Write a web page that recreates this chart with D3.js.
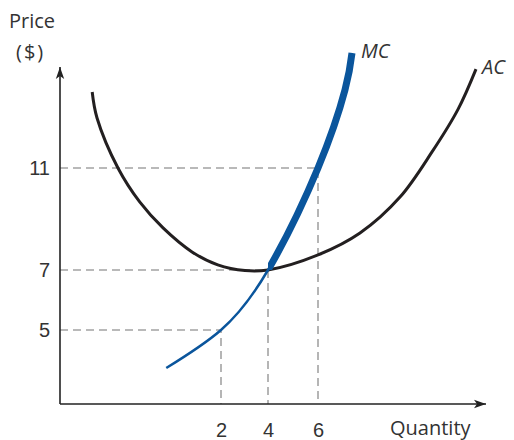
<!DOCTYPE html>
<html>
<head>
<meta charset="utf-8">
<script src="https://cdn.jsdelivr.net/npm/d3@7.9.0/dist/d3.min.js"></script>
<style>
  body { margin: 0; background: #fff; }
  svg { display: block; font-family: 'Open Sans', sans-serif; }
  .tick text { fill: #333; font-size: 20px; }
</style>
</head>
<body>
<svg id="chart" width="514" height="440"></svg>
<script>
// marked quantities / prices
const qTicks = [2, 4, 6];
const pTicks = [5, 7, 11];

// curves (quantity, price)
const mc = [
  [1.32, 2.43], [2, 5], [4, 7], [6, 11], [7.08, 14.06], [7.36, 15.51]
];
const ac = [
  [0.4, 13.98], [0.46, 12.96], [0.72, 11], [0.99, 9.67], [1.28, 8.65],
  [1.64, 7.71], [1.96, 7.2], [3.02, 6.98], [4, 7], [6, 7.59], [7.68, 8.45],
  [9.28, 9.86], [10.56, 11.63], [11.6, 13.3], [12.32, 14.88]
];
// MC is drawn heavy above its crossing with AC
const mcSplit = [4, 7];
// dashed guides: price level meets MC at this quantity
const guides = [[2, 5], [4, 7], [6, 11]];

const svg = d3.select('#chart');

// the drawing is not to scale, so the scales are piecewise
const x = d3.scaleLinear().domain([0, 2, 4, 6, 12]).range([60, 221, 268, 318, 468]);
const y = d3.scaleLinear().domain([0, 5, 7, 11, 15]).range([404, 330, 270, 168, 66]);

const x0 = x(0), y0 = y(0);

// dashed guide lines
guides.forEach(([q, p]) => {
  svg.append('path')
    .attr('d', `M${x0},${y(p)}H${x(q)}V${y0}`)
    .attr('fill', 'none')
    .attr('stroke', '#a3a3a3')
    .attr('stroke-width', 1.6)
    .attr('stroke-dasharray', '8,5');
});

// axes
const defs = svg.append('defs');
defs.append('marker')
  .attr('id', 'arrow')
  .attr('viewBox', '0 0 10 10')
  .attr('refX', 10).attr('refY', 5)
  .attr('markerWidth', 12).attr('markerHeight', 12)
  .attr('markerUnits', 'userSpaceOnUse')
  .attr('orient', 'auto')
  .append('path')
  .attr('d', 'M0,1.5L10,5L0,8.5L2.5,5Z')
  .attr('fill', '#222');

defs.append('clipPath')
  .attr('id', 'upper')
  .append('rect')
  .attr('x', x(mcSplit[0])).attr('y', 0)
  .attr('width', 514).attr('height', y(mcSplit[1]));

svg.append('line')
  .attr('x1', x0).attr('y1', y0)
  .attr('x2', x0).attr('y2', 67)
  .attr('stroke', '#222').attr('stroke-width', 1.6)
  .attr('marker-end', 'url(#arrow)');

svg.append('line')
  .attr('x1', x0).attr('y1', y0)
  .attr('x2', 486).attr('y2', y0)
  .attr('stroke', '#222').attr('stroke-width', 1.6)
  .attr('marker-end', 'url(#arrow)');

svg.append('g')
  .attr('transform', `translate(${x0},0)`)
  .call(d3.axisLeft(y).tickValues(pTicks).tickSize(0).tickPadding(10))
  .call(g => g.select('.domain').remove());

svg.append('g')
  .attr('transform', `translate(0,${y0})`)
  .call(d3.axisBottom(x).tickValues(qTicks).tickSize(0).tickPadding(19))
  .call(g => g.select('.domain').remove());

// curves
const acLine = d3.line()
  .x(d => x(d[0]))
  .y(d => y(d[1]))
  .curve(d3.curveCatmullRom.alpha(0.5));

const mcLine = d3.line()
  .x(d => x(d[0]))
  .y(d => y(d[1]))
  .curve(d3.curveNatural);

svg.append('path')
  .attr('d', acLine(ac))
  .attr('fill', 'none')
  .attr('stroke', '#231f20')
  .attr('stroke-width', 3);

svg.append('path')
  .attr('d', mcLine(mc))
  .attr('fill', 'none')
  .attr('stroke', '#0a559c')
  .attr('stroke-width', 2.5);

svg.append('path')
  .attr('d', mcLine(mc))
  .attr('clip-path', 'url(#upper)')
  .attr('fill', 'none')
  .attr('stroke', '#0a559c')
  .attr('stroke-width', 7);

// labels
const txt = (tx, ty, s, italic) => svg.append('text')
  .attr('x', tx).attr('y', ty)
  .attr('fill', '#333')
  .attr('font-size', 20)
  .attr('font-style', italic ? 'italic' : 'normal')
  .text(s);

txt(9, 28, 'Price');
txt(16, 59, '($)').attr('letter-spacing', 2);
txt(390, 435, 'Quantity');
txt(361, 58, 'MC', true);
txt(482, 74, 'AC', true);
</script>
</body>
</html>
